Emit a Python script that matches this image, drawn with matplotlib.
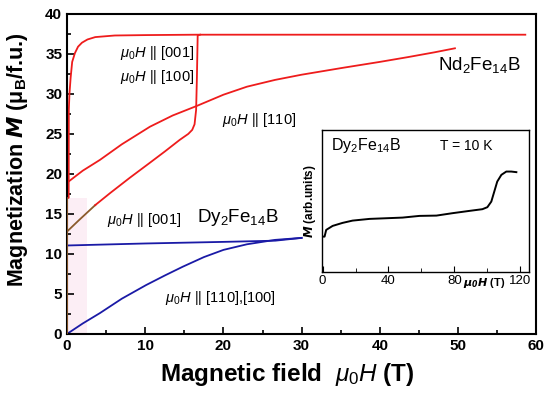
import matplotlib
matplotlib.use("Agg")
import matplotlib.pyplot as plt
from matplotlib.ticker import MultipleLocator

plt.rcParams['font.family'] = ['Liberation Sans', 'DejaVu Sans']
plt.rcParams['mathtext.fontset'] = 'custom'
plt.rcParams['mathtext.rm'] = 'Liberation Sans'
plt.rcParams['mathtext.it'] = 'Liberation Sans:italic'
plt.rcParams['mathtext.bf'] = 'Liberation Sans:bold'

# Nd2Fe14B, H || [001]
nd001_x = [0.0, 0.2, 0.22, 0.3, 0.45, 0.65, 1.0, 1.4, 1.9, 2.6, 3.6, 6.1, 10.0, 16.5, 20.0, 30.0, 40.0, 50.0, 58.6]
nd001_y = [17.0, 17.0, 28.0, 30.0, 32.0, 34.0, 35.1, 35.9, 36.4, 36.8, 37.1, 37.3, 37.35, 37.4, 37.4, 37.4, 37.4, 37.4, 37.4]

# Nd2Fe14B, H || [100]
nd100_x = [0.0, 1.5, 3.6, 5.5, 8.0, 10.6, 12.5, 14.4, 15.5, 16.0, 16.3, 16.5, 16.6, 16.7, 17.0]
nd100_y = [12.8, 14.2, 16.1, 17.6, 19.5, 21.4, 22.8, 24.25, 25.0, 25.5, 26.2, 28.0, 32.0, 37.3, 37.4]

# Nd2Fe14B, H || [110]
nd110_x = [0.0, 2.0, 4.2, 7.0, 10.6, 13.5, 16.6, 20.0, 23.0, 26.6, 30.0, 35.2, 40.0, 43.6, 47.0, 49.6]
nd110_y = [18.9, 20.4, 21.75, 23.7, 25.9, 27.3, 28.5, 29.9, 30.9, 31.75, 32.4, 33.25, 34.0, 34.6, 35.2, 35.7]

# Dy2Fe14B, H || [001]
dy001_x = [0.0, 10.0, 20.0, 26.6, 30.0]
dy001_y = [11.05, 11.3, 11.5, 11.65, 12.0]

# Dy2Fe14B, H || [110],[100]
dy110_x = [0.0, 2.0, 4.2, 7.0, 10.1, 12.5, 14.8, 17.5, 20.0, 23.0, 26.6, 30.0]
dy110_y = [0.0, 1.3, 2.6, 4.4, 6.1, 7.3, 8.4, 9.6, 10.5, 11.2, 11.75, 12.0]

# Inset: Dy2Fe14B, T = 10 K (arbitrary units)
ins_x = [0.0, 1.2, 2.2, 6.1, 12.1, 18.2, 28.5, 48.5, 58.8, 69.1, 78.8, 89.1, 97.0, 100.0,
         102.4, 104.2, 106.0, 108.5, 111.5, 114.5, 117.6]
ins_y = [35.3, 35.3, 42.0, 46.0, 49.0, 51.3, 53.0, 54.3, 56.0, 56.3, 58.7, 61.0, 62.7, 64.7,
         70.3, 80.3, 90.3, 97.0, 100.3, 100.3, 99.7]

fig = plt.figure(figsize=(5.5, 3.97), dpi=100)
ax = fig.add_axes([0.122, 0.159, 0.853, 0.806])

ax.fill_between([0, 2.5], 0, 17, color='#fbe3ef', alpha=0.6, lw=0, zorder=0)
ax.plot([0, 0], [0, 17], color='#8b5a2b', lw=1.3, zorder=3)
ax.plot(nd001_x, nd001_y, color='#ee1c1c', lw=1.3)
ax.plot(nd100_x[:3], nd100_y[:3], color='#8b5a2b', lw=1.3)
ax.plot(nd100_x[2:], nd100_y[2:], color='#ee1c1c', lw=1.3)
ax.plot(nd110_x, nd110_y, color='#ee1c1c', lw=1.3)
ax.plot(dy001_x, dy001_y, color='#1a1aa6', lw=1.3)
ax.plot(dy110_x, dy110_y, color='#1a1aa6', lw=1.3)

ax.set_xlim(0, 60)
ax.set_ylim(0, 40)
ax.xaxis.set_major_locator(MultipleLocator(10))
ax.xaxis.set_minor_locator(MultipleLocator(5))
ax.yaxis.set_major_locator(MultipleLocator(5))
ax.yaxis.set_minor_locator(MultipleLocator(2.5))
ax.tick_params(which='both', direction='in', width=1.2)
ax.tick_params(which='major', length=5, labelsize=11)
ax.tick_params(which='minor', length=3)
for lab in ax.get_xticklabels() + ax.get_yticklabels():
    lab.set_fontweight('bold')
for s in ax.spines.values():
    s.set_linewidth(1.5)

ax.set_xlabel(r'Magnetic field  $\mathit{\mu_0H}$ (T)', fontsize=17.5, fontweight='bold', labelpad=2)
ax.xaxis.set_label_coords(0.47, -0.085)
ax.set_ylabel(r'Magnetization $\mathbfit{M}$ ($\mathbf{\mu_B}$/f.u.)', fontsize=15.5, fontweight='bold', labelpad=3)
ax.yaxis.set_label_coords(-0.08, 0.545)

lf = 10.5
ax.text(16.2, 35.1, r'$\mu_0H$ || [001]', fontsize=lf, ha='right', va='center')
ax.text(16.2, 32.1, r'$\mu_0H$ || [100]', fontsize=lf, ha='right', va='center')
ax.text(19.8, 26.75, r'$\mu_0H$ || [110]', fontsize=lf, ha='left', va='center')
ax.text(47.4, 33.6, r'Nd$_2$Fe$_{14}$B', fontsize=13.5, ha='left', va='center')
ax.text(5.1, 14.25, r'$\mu_0H$ || [001]', fontsize=lf, ha='left', va='center')
ax.text(16.6, 14.5, r'Dy$_2$Fe$_{14}$B', fontsize=13.5, ha='left', va='center')
ax.text(12.5, 4.5, r'$\mu_0H$ || [110],[100]', fontsize=lf, ha='left', va='center')

ins = fig.add_axes([0.585, 0.315, 0.376, 0.358])
ins.plot(ins_x, ins_y, color='black', lw=1.4)
ins.set_xlim(-0.5, 125)
ins.set_ylim(0, 142)
ins.set_yticks([])
ins.xaxis.set_major_locator(MultipleLocator(40))
ins.xaxis.set_minor_locator(MultipleLocator(20))
ins.tick_params(which='both', direction='in', labelsize=9.5, pad=2)
ins.tick_params(which='major', length=4)
ins.tick_params(which='minor', length=3)
for s in ins.spines.values():
    s.set_linewidth(1.0)
ins.set_ylabel(r'$\mathbfit{M}$ (arb.units)', fontsize=8.5, fontweight='bold', labelpad=3)
ins.text(98, -4, r'$\mathbfit{\mu_0H}$ (T)', fontsize=8, fontweight='bold', ha='center', va='top')
ins.text(5, 126, r'Dy$_2$Fe$_{14}$B', fontsize=11.5, ha='left', va='center')
ins.text(71, 126, 'T = 10 K', fontsize=10, ha='left', va='center')

fig.savefig('out.png', dpi=100)
